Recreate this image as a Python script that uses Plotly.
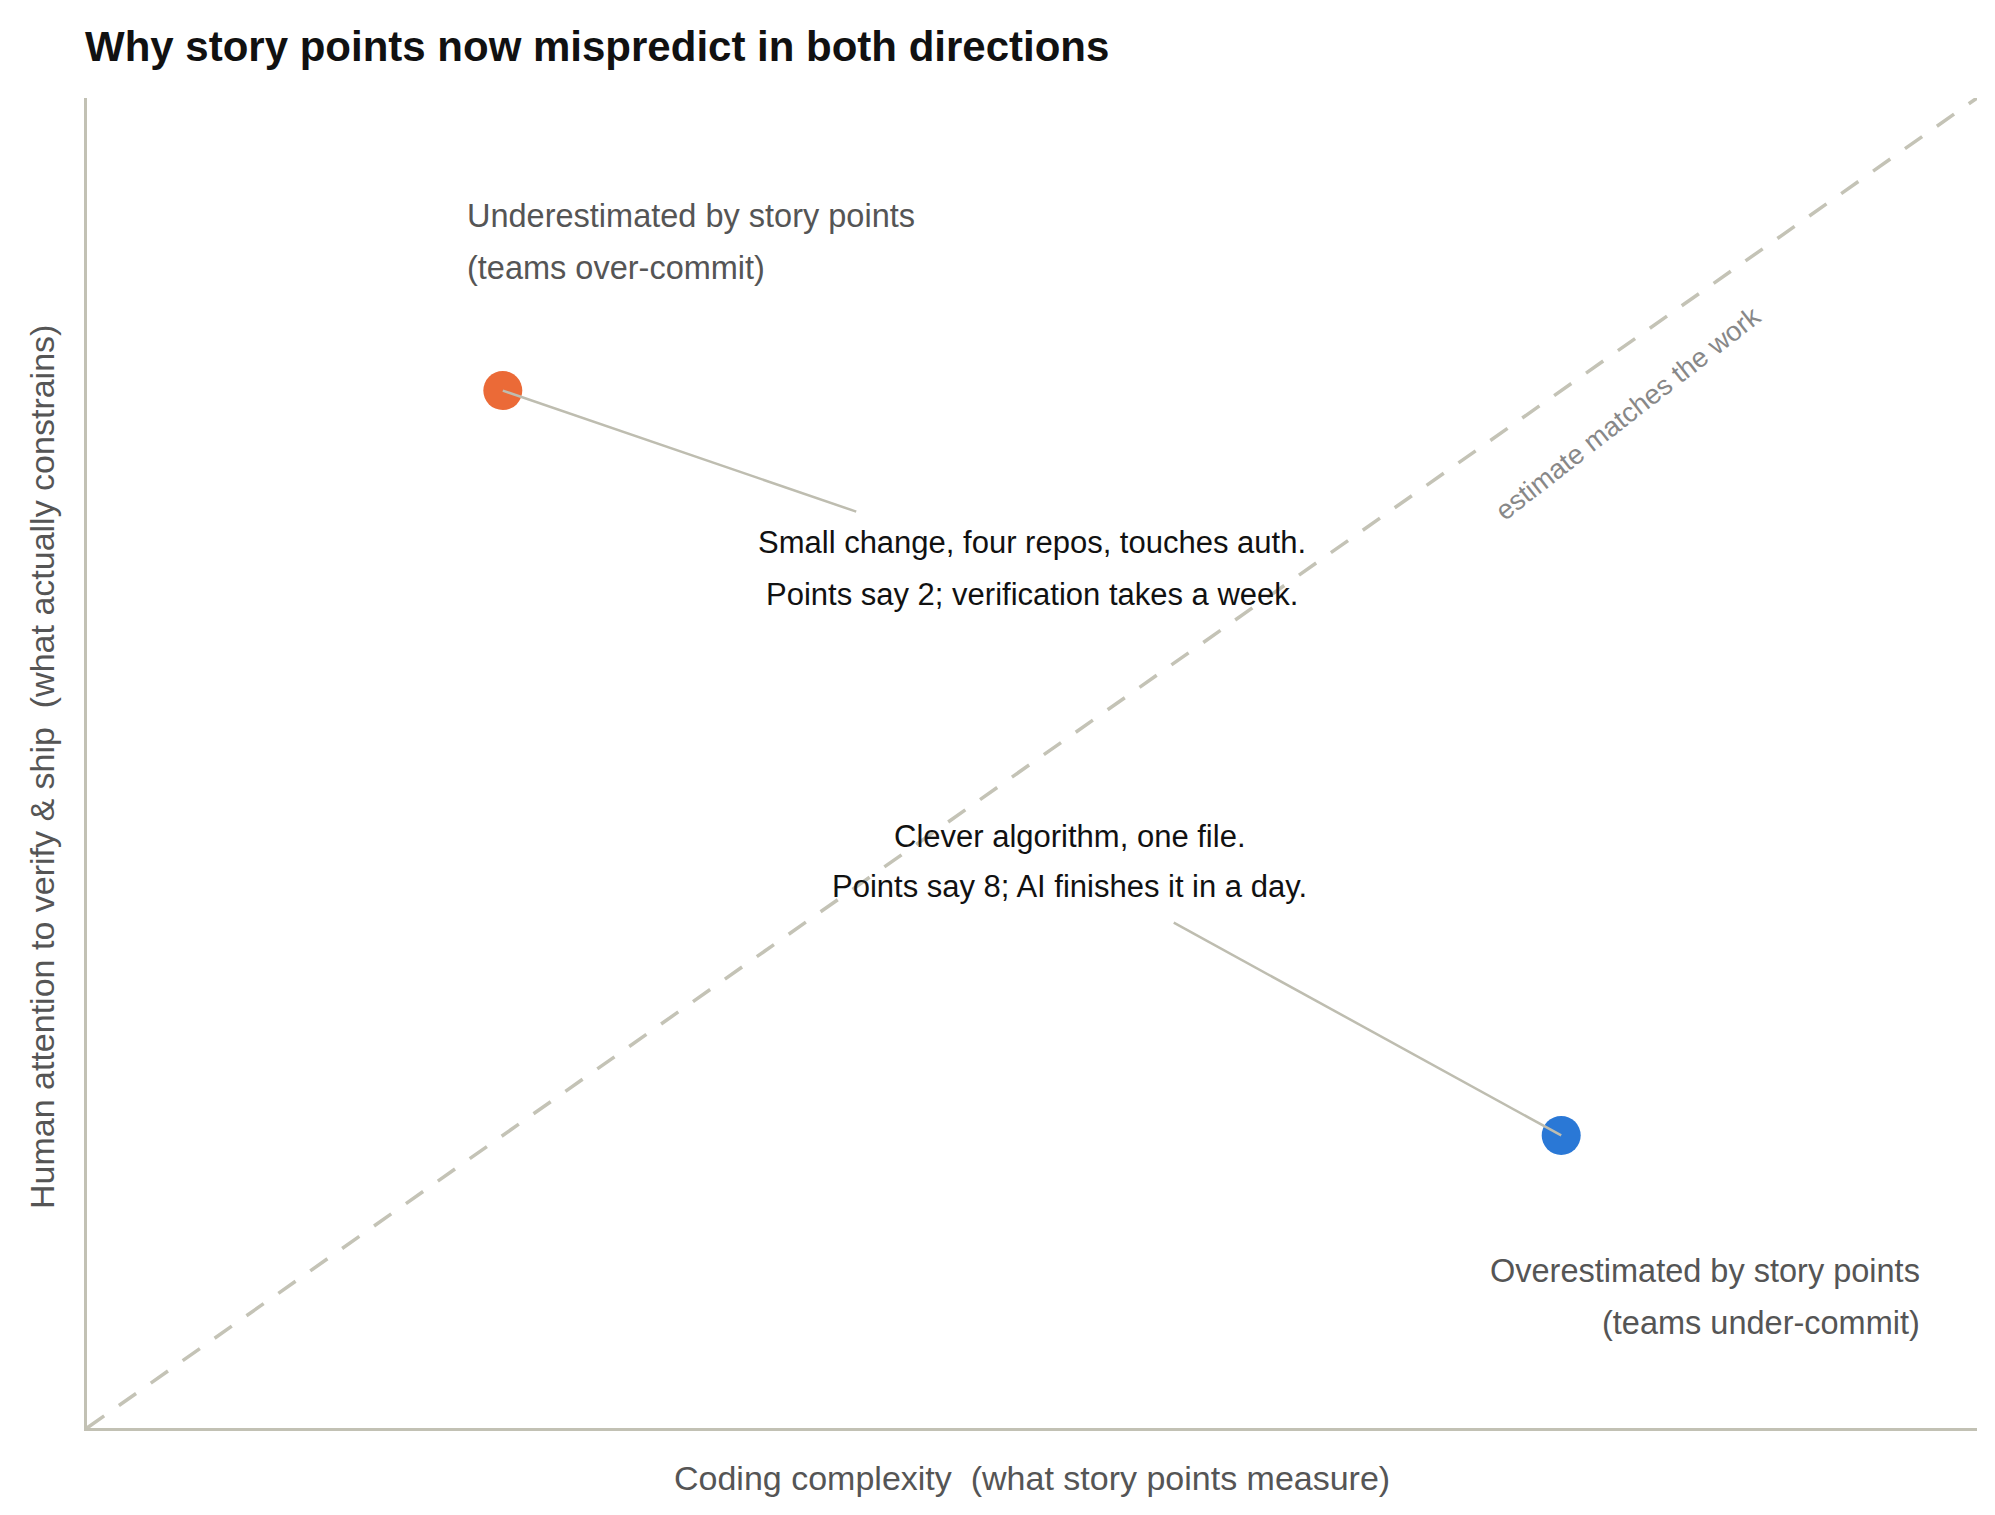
import plotly.graph_objects as go

# Two example tickets, placed on coding complexity vs human attention (0..1 scale)
tickets = ["Small change, four repos", "Clever algorithm, one file"]
coding_complexity = [0.22, 0.78]
human_attention = [0.78, 0.22]
dot_colors = ["#EB6A37", "#2A78D6"]

# Callout text for each ticket (one entry per line)
note_lines = [
    ["Small change, four repos, touches auth.", "Points say 2; verification takes a week."],
    ["Clever algorithm, one file.", "Points say 8; AI finishes it in a day."],
]
note_x = [0.50, 0.52]
note_y = [[0.666, 0.627], [0.445, 0.407]]
# where each connector meets its callout
note_anchor_x = [0.407, 0.575]
note_anchor_y = [0.689, 0.380]

# Region labels
region_lines = [
    ["Underestimated by story points", "(teams over-commit)"],
    ["Overestimated by story points", "(teams under-commit)"],
]
region_x = [0.20, 0.971]
region_y = [[0.911, 0.872], [0.118, 0.079]]
region_align = ["left", "right"]

# Reference diagonal: estimate == work
diag_x = [0, 1]
diag_y = [0, 1]

FONT = "Liberation Sans, Arial, Helvetica, sans-serif"
AXIS_COLOR = "#C2C1B4"

# page body adds an 8px margin, so the figure is sized to fit inside it
W, H = 1979, 1499

fig = go.Figure()

fig.add_trace(go.Scatter(
    x=diag_x, y=diag_y, mode="lines",
    line=dict(color="#C4C3B6", width=3.5, dash="21px,18px"),
    hoverinfo="skip", showlegend=False,
))

fig.add_trace(go.Scatter(
    x=coding_complexity, y=human_attention, mode="markers",
    marker=dict(size=39, color=dot_colors, line=dict(width=0)),
    text=tickets, hoverinfo="text", showlegend=False,
))

# connectors drawn over the dots, from dot centre to callout
for i in range(len(tickets)):
    fig.add_trace(go.Scatter(
        x=[coding_complexity[i], note_anchor_x[i]],
        y=[human_attention[i], note_anchor_y[i]],
        mode="lines", line=dict(color="#BEBDB0", width=2.5),
        hoverinfo="skip", showlegend=False,
    ))

annotations = []
for i, lines in enumerate(note_lines):
    for line, yy in zip(lines, note_y[i]):
        annotations.append(dict(
            x=note_x[i], y=yy, xref="x", yref="y", text=line, showarrow=False,
            xanchor="center", yanchor="middle",
            font=dict(family=FONT, size=31, color="#111111"),
        ))

for i, lines in enumerate(region_lines):
    for line, yy in zip(lines, region_y[i]):
        annotations.append(dict(
            x=region_x[i], y=yy, xref="x", yref="y", text=line, showarrow=False,
            xanchor=region_align[i], yanchor="middle",
            font=dict(family=FONT, size=32.5, color="#555555"),
        ))

annotations.append(dict(
    x=0.815, y=0.763, xref="x", yref="y", text="estimate matches the work",
    showarrow=False, textangle=-38, xanchor="center", yanchor="middle",
    font=dict(family=FONT, size=27.5, color="#888888"),
))

# axis titles
annotations.append(dict(
    x=0.5, y=0, xref="paper", yref="paper", yshift=-50,
    text="Coding complexity \u00a0(what story points measure)", showarrow=False,
    xanchor="center", yanchor="middle",
    font=dict(family=FONT, size=34, color="#555555"),
))
annotations.append(dict(
    x=0, y=0.5, xref="paper", yref="paper", xshift=-45, yshift=-4,
    text="Human attention to verify & ship \u00a0(what actually constrains)", showarrow=False,
    textangle=-90, xanchor="center", yanchor="middle",
    font=dict(family=FONT, size=34, color="#555555"),
))

fig.update_layout(
    width=W, height=H,
    margin=dict(l=79, r=10, t=90, b=79),
    paper_bgcolor="white", plot_bgcolor="white",
    title=dict(
        text="Why story points now mispredict in both directions",
        x=77 / W, xanchor="left", y=1 - 38 / H, yanchor="middle",
        font=dict(family=FONT, size=42, color="#111111", weight=700),
    ),
    annotations=annotations,
    showlegend=False,
)
fig.update_xaxes(range=[0, 1], showgrid=False, zeroline=False, showticklabels=False,
                 ticks="", showline=True, linecolor=AXIS_COLOR, linewidth=3)
fig.update_yaxes(range=[0, 1], showgrid=False, zeroline=False, showticklabels=False,
                 ticks="", showline=True, linecolor=AXIS_COLOR, linewidth=3)

fig.write_html("out.html")
